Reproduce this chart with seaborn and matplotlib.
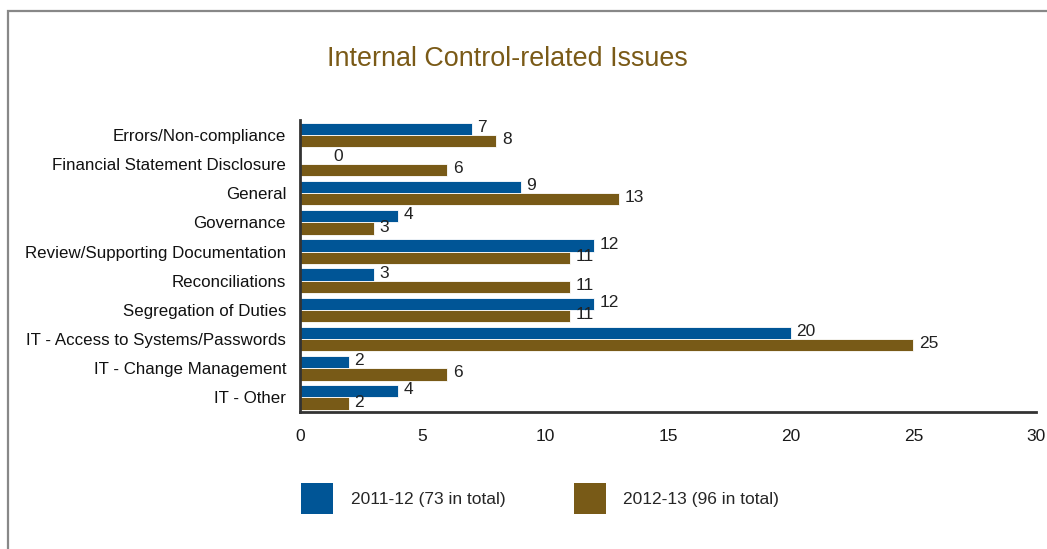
import matplotlib
matplotlib.use("Agg")
import matplotlib.pyplot as plt
from matplotlib.patches import Patch, Rectangle
import pandas as pd
import seaborn as sns

categories = [
    "Errors/Non-compliance",
    "Financial Statement Disclosure",
    "General",
    "Governance",
    "Review/Supporting Documentation",
    "Reconciliations",
    "Segregation of Duties",
    "IT - Access to Systems/Passwords",
    "IT - Change Management",
    "IT - Other",
]
values_2011 = [7, 0, 9, 4, 12, 3, 12, 20, 2, 4]
values_2012 = [8, 6, 13, 3, 11, 11, 11, 25, 6, 2]
series_names = ["2011-12 (73 in total)", "2012-13 (96 in total)"]
colors = ["#005596", "#785a17"]

df = pd.DataFrame({
    "category": categories * 2,
    "count": values_2011 + values_2012,
    "period": [series_names[0]] * len(categories) + [series_names[1]] * len(categories),
})

sns.set_theme(style="white")
plt.rcParams["font.family"] = ["Liberation Sans", "DejaVu Sans"]

fig = plt.figure(figsize=(10.47, 5.49), dpi=100)
ax = fig.add_axes([0.2865, 0.2495, 0.703, 0.5315])

sns.barplot(data=df, y="category", x="count", hue="period", order=categories,
            hue_order=series_names, palette=colors, orient="h", width=0.84,
            saturation=1, edgecolor="white", linewidth=0.6, ax=ax, legend=False)

for cont in ax.containers:
    texts = ax.bar_label(cont, padding=4, fontsize=12.5, color="#222222")
    for t in texts:
        t.xyann = (t.xyann[0], 1)
        # the empty bar's label sits further right in the original
        if t.get_text() == "0":
            t.xyann = (24, 1)

ax.set_xlim(0, 30)
ax.set_xticks([0, 5, 10, 15, 20, 25, 30])
ax.set_xlabel("")
ax.set_ylabel("")
ax.tick_params(axis="x", length=0, labelsize=12.5, colors="#1a1a1a", pad=12)
ax.tick_params(axis="y", length=0, labelsize=12.2, colors="#111111", pad=10)
for side in ["top", "right"]:
    ax.spines[side].set_visible(False)
for side in ["left", "bottom"]:
    ax.spines[side].set_color("#333333")
    ax.spines[side].set_linewidth(2)

fig.text(0.485, 0.893, "Internal Control-related Issues", ha="center", va="center",
         fontsize=19.4, color="#7a5a17")

handles = [Patch(facecolor=c, edgecolor="none") for c in colors]
fig.legend(handles, series_names, loc="center left", bbox_to_anchor=(0.273, 0.092),
           ncol=2, frameon=False, fontsize=12.5, handlelength=1.84, handleheight=2.45,
           handletextpad=1.03, columnspacing=3.9)

fig.add_artist(Rectangle((8 / 1047, -0.1), 1.2, 1.1 - 11 / 549, transform=fig.transFigure,
                         fill=False, edgecolor="#888888", linewidth=1.6))

fig.savefig("out.png", dpi=100)
